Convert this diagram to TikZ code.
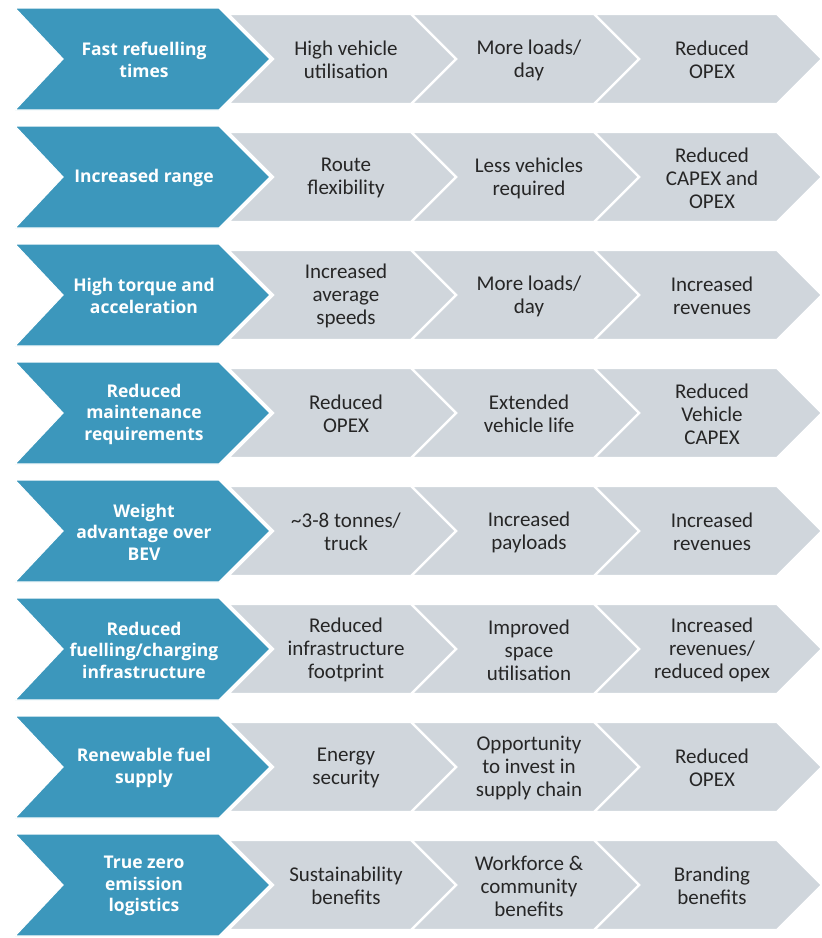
\documentclass[tikz,border=0pt]{standalone}
\usepackage{fontspec}
\setmainfont{Carlito}
\newfontfamily\bluefont{Open Sans}
\definecolor{chevblue}{RGB}{60,151,188}
\definecolor{chevgrey}{RGB}{208,214,220}
\definecolor{chevtext}{RGB}{38,38,38}
\tikzset{
  bluebox/.style={fill=chevblue, draw=white, line width=1.2pt, line join=miter},
  greybox/.style={fill=chevgrey, draw=white, line width=2.2pt, line join=miter},
  bluetext/.style={text=white, align=center, font=\bluefont\bfseries\fontsize{17.5}{21.5}\selectfont, inner sep=0pt},
  greytext/.style={text=chevtext, align=center, font=\fontsize{21}{23}\selectfont, inner sep=0pt}
}
\newcommand{\mkrow}[6]{%
  \begin{scope}[yshift=-#2pt]
    \foreach \k in {2,1,0}{
      \pgfmathsetmacro{\L}{228+183*\k}
      \path[greybox] (\L,-45) -- ({\L+183},-45) -- ({\L+228},0) -- ({\L+183},45) -- (\L,45) -- ({\L+45},0) -- cycle;
    }
    \path[bluebox] (15,-51) -- (219,-51) -- (270,0) -- (219,51) -- (15,51) -- (63,0) -- cycle;
    \node[bluetext] (b#1) at (144,1) {#3};
    \node[greytext] (g#1a) at (346,1) {#4};
    \node[greytext] (g#1b) at (529,1) {#5};
    \node[greytext] (g#1c) at (712,1) {#6};
  \end{scope}}
\begin{document}
\begin{tikzpicture}[x=1pt,y=-1pt]
\useasboundingbox (0,0) rectangle (822,938);
\fill[white] (0,0) rectangle (822,938);
\mkrow{1}{59}{Fast refuelling\\times}{High vehicle\\utilisation}{More loads/\\day}{Reduced\\OPEX}
\mkrow{2}{177}{Increased range}{Route\\flexibility}{Less vehicles\\required}{Reduced\\CAPEX and\\OPEX}
\mkrow{3}{295}{High torque and\\acceleration}{Increased\\average\\speeds}{More loads/\\day}{Increased\\revenues}
\mkrow{4}{413}{Reduced\\maintenance\\requirements}{Reduced\\OPEX}{Extended\\vehicle life}{Reduced\\Vehicle\\CAPEX}
\mkrow{5}{531}{Weight\\advantage over\\BEV}{\textasciitilde3-8 tonnes/\\truck}{Increased\\payloads}{Increased\\revenues}
\mkrow{6}{649}{Reduced\\fuelling/charging\\infrastructure}{Reduced\\infrastructure\\footprint}{Improved\\space\\utilisation}{Increased\\revenues/\\reduced opex}
\mkrow{7}{767}{Renewable fuel\\supply}{Energy\\security}{Opportunity\\to invest in\\supply chain}{Reduced\\OPEX}
\mkrow{8}{885}{True zero\\emission\\logistics}{Sustainability\\benefits}{Workforce \&\\community\\benefits}{Branding\\benefits}
\end{tikzpicture}
\end{document}
